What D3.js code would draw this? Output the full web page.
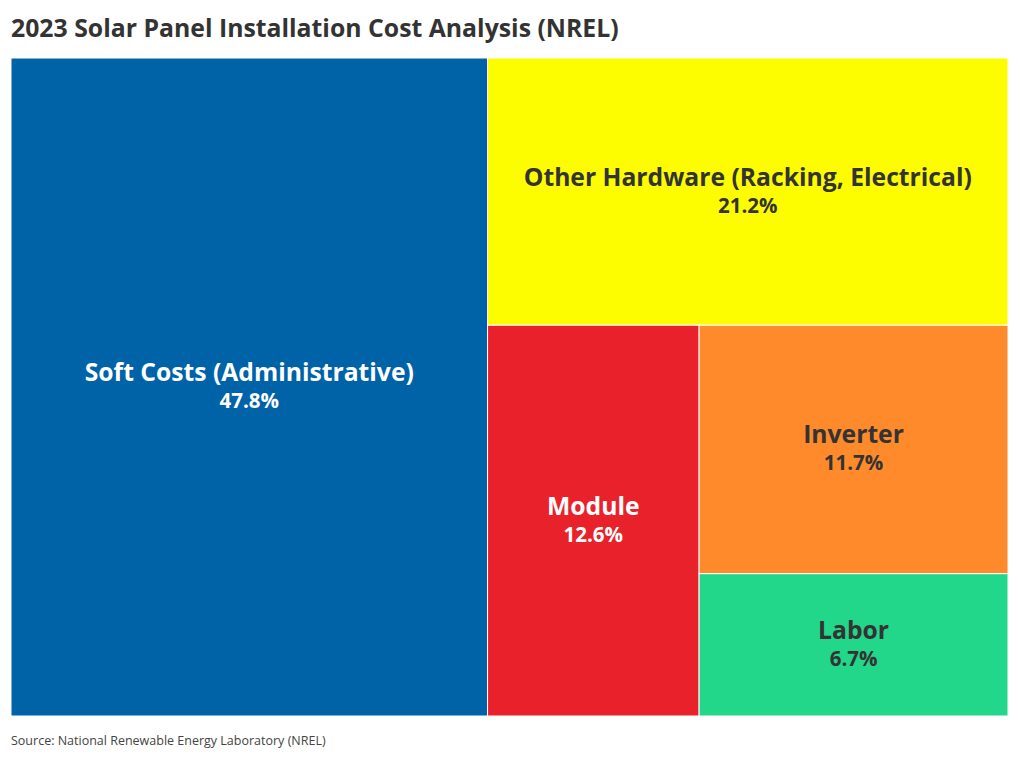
<!DOCTYPE html>
<html>
<head>
<meta charset="utf-8">
<script src="https://cdn.jsdelivr.net/npm/d3@7"></script>
<style>
  body { margin: 0; background: #fff; }
  svg { display: block; font-family: "Source Sans Pro", "Open Sans", sans-serif; }
</style>
</head>
<body>
<svg id="chart" width="1020" height="760"></svg>
<script>
const categories = ["Soft Costs (Administrative)", "Other Hardware (Racking, Electrical)", "Module", "Inverter", "Labor"];
const shares = [47.8, 21.2, 12.6, 11.7, 6.7];
const colors = ["#0062a7", "#fdfd00", "#e9212a", "#fe8a2b", "#22d68a"];
const textColors = ["#ffffff", "#333333", "#ffffff", "#333333", "#333333"];
const titleText = "2023 Solar Panel Installation Cost Analysis (NREL)";
const sourceText = "Source: National Renewable Energy Laboratory (NREL)";

const W = 1020, H = 760;
const margin = { left: 11, right: 12, top: 58, bottom: 44 };
const svg = d3.select("#chart");

svg.append("text")
  .attr("x", 11).attr("y", 37)
  .attr("font-size", 24.8).attr("font-weight", 700)
  .attr("fill", "#333")
  .text(titleText);

const data = { name: "root", children: categories.map((c, i) => ({ name: c, value: shares[i], idx: i })) };
const root = d3.hierarchy(data).sum(d => d.value || 0).sort((a, b) => b.value - a.value);
d3.treemap()
  .tile(d3.treemapSquarify.ratio(1))
  .size([W - margin.left - margin.right, H - margin.top - margin.bottom])
  .round(false)(root);

const g = svg.append("g").attr("transform", `translate(${margin.left},${margin.top})`);
const cells = g.selectAll("g.cell").data(root.leaves()).join("g").attr("class", "cell");

cells.append("rect")
  .attr("x", d => d.x0).attr("y", d => d.y0)
  .attr("width", d => d.x1 - d.x0).attr("height", d => d.y1 - d.y0)
  .attr("fill", d => colors[d.data.idx])
  .attr("stroke", "#fff").attr("stroke-width", 1);

cells.append("text")
  .attr("x", d => (d.x0 + d.x1) / 2)
  .attr("y", d => (d.y0 + d.y1) / 2 - 6)
  .attr("text-anchor", "middle")
  .attr("font-size", 24.7).attr("font-weight", 700)
  .attr("fill", d => textColors[d.data.idx])
  .text(d => d.data.name);

cells.append("text")
  .attr("x", d => (d.x0 + d.x1) / 2)
  .attr("y", d => (d.y0 + d.y1) / 2 + 21)
  .attr("text-anchor", "middle")
  .attr("font-size", 20.5).attr("font-weight", 700)
  .attr("fill", d => textColors[d.data.idx])
  .text(d => d.data.value.toFixed(1) + "%");

svg.append("text")
  .attr("x", 11).attr("y", 745)
  .attr("font-size", 12.5)
  .attr("fill", "#444")
  .text(sourceText);
</script>
</body>
</html>
